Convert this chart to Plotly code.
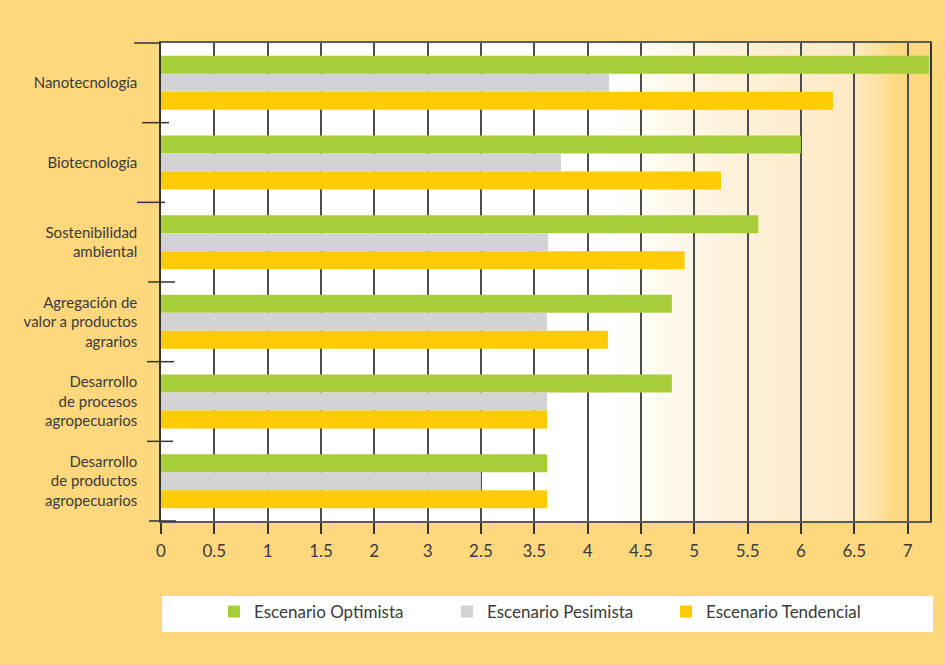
import plotly.graph_objects as go

# Áreas tecnológicas (de arriba hacia abajo)
categorias = [
    "Nanotecnología",
    "Biotecnología",
    "Sostenibilidad<br>ambiental",
    "Agregación de<br>valor a productos<br>agrarios",
    "Desarrollo<br>de procesos<br>agropecuarios",
    "Desarrollo<br>de productos<br>agropecuarios",
]

optimista = [7.2, 6.0, 5.6, 4.79, 4.79, 3.62]
pesimista = [4.2, 3.75, 3.63, 3.62, 3.62, 3.0]
tendencial = [6.3, 5.25, 4.91, 4.19, 3.62, 3.62]

series = [
    ("Escenario Optimista", optimista, "#A8CD3A"),
    ("Escenario Pesimista", pesimista, "#D3D3D5"),
    ("Escenario Tendencial", tendencial, "#FFCB05"),
]

# Marcas del eje horizontal, tal como están rotuladas
x_ticks = [0, 0.5, 1, 1.5, 2, 2.5, 3, 3.5, 4, 4.5, 5, 5.5, 6, 6.5, 7]
x_labels = ["0", "0.5", "1", "1.5", "2", "3", "2.5", "3.5", "4", "4.5",
            "5", "5.5", "6", "6.5", "7"]

BG = "#FFD87E"
TEXT = "#3a3a3a"
FONT = "Lato"
X_MAX = 7.21
N = len(categorias)

fig = go.Figure()

legend_ids = ["legend", "legend2", "legend3"]
for (name, vals, color), lg in zip(series, legend_ids):
    fig.add_trace(go.Bar(
        y=list(range(N)),
        x=vals,
        orientation="h",
        name=name,
        marker=dict(color=color, line=dict(width=0)),
        legend=lg,
        hoverinfo="x+name",
    ))

shapes = []

# Degradado del fondo del área de trazado (blanco -> amarillo a la derecha)
stops = [
    (4.2, (255, 255, 255)),
    (4.55, (255, 252, 245)),
    (5.0, (254, 245, 228)),
    (5.6, (254, 240, 214)),
    (6.5, (254, 233, 196)),
    (6.7, (255, 226, 166)),
    (6.88, (255, 217, 132)),
    (X_MAX, (255, 215, 126)),
]


def grad_color(v):
    for (a, ca), (b, cb) in zip(stops[:-1], stops[1:]):
        if a <= v <= b:
            t = (v - a) / (b - a)
            return "rgb(%d,%d,%d)" % tuple(round(ca[i] + (cb[i] - ca[i]) * t) for i in range(3))
    return "rgb(%d,%d,%d)" % stops[-1][1]


n_strips = 160
x0 = stops[0][0]
step = (X_MAX - x0) / n_strips
for i in range(n_strips):
    a = x0 + i * step
    shapes.append(dict(
        type="rect", xref="x", yref="paper",
        x0=a, x1=min(a + step * 1.6, X_MAX), y0=0, y1=1,
        fillcolor=grad_color(a + step / 2), line=dict(width=0),
        layer="below",
    ))

# Marcas de separación entre categorías junto al eje vertical
sep_ext = [(-27, 0), (-19, 8), (-24, 4), (-13, 14), (-14, 13), (-14, 12), (-12, 15)]
for k, (a, b) in enumerate(sep_ext):
    yb = (N - k) / N  # posición del límite entre categorías, en fracción del área
    shapes.append(dict(
        type="line", xref="paper", yref="paper", xsizemode="pixel", xanchor=0,
        x0=a, x1=b, y0=yb, y1=yb,
        line=dict(color="#333333", width=1.5), layer="above",
    ))

# Caja blanca de la leyenda
shapes.append(dict(
    type="rect", xref="paper", yref="paper",
    x0=(162 - 161) / 769, x1=(933 - 161) / 769,
    y0=(521 - 632) / 478, y1=(521 - 596) / 478,
    fillcolor="white", line=dict(width=0), layer="below",
))

fig.update_layout(
    width=945, height=665,
    paper_bgcolor=BG,
    plot_bgcolor="white",
    margin=dict(l=161, r=15, t=43, b=144, pad=0),
    barmode="group",
    bargap=0.322,
    bargroupgap=0,
    font=dict(family=FONT, color=TEXT, size=15),
    shapes=shapes,
    xaxis=dict(
        range=[0, X_MAX],
        tickvals=x_ticks, ticktext=x_labels,
        showgrid=True, gridcolor="#4d4d4d", gridwidth=1.5,
        zeroline=False,
        showline=True, linecolor="#5a5a5a", linewidth=1.5, mirror=True,
        ticks="outside", ticklen=11, tickwidth=1.5, tickcolor="#333333",
        ticklabelstandoff=3,
        tickfont=dict(family=FONT, size=17, color=TEXT),
    ),
    yaxis=dict(
        range=[N - 0.5, -0.5],
        tickvals=list(range(N)), ticktext=categorias,
        showgrid=False, zeroline=False,
        showline=True, linecolor="#333333", linewidth=1.5, mirror=True,
        ticks="", ticklabelstandoff=19,
        tickfont=dict(family=FONT, size=15, color=TEXT),
    ),
    showlegend=True,
)

legend_x = [214, 447, 666]
for lg, xp in zip(legend_ids, legend_x):
    fig.update_layout({lg: dict(
        xref="container", yref="container",
        x=xp / 945, y=1 - 612 / 665,
        xanchor="left", yanchor="middle",
        orientation="h",
        bgcolor="rgba(0,0,0,0)",
        font=dict(family=FONT, size=17, color=TEXT),
        borderwidth=0,
    )})

fig.write_html("out.html")
